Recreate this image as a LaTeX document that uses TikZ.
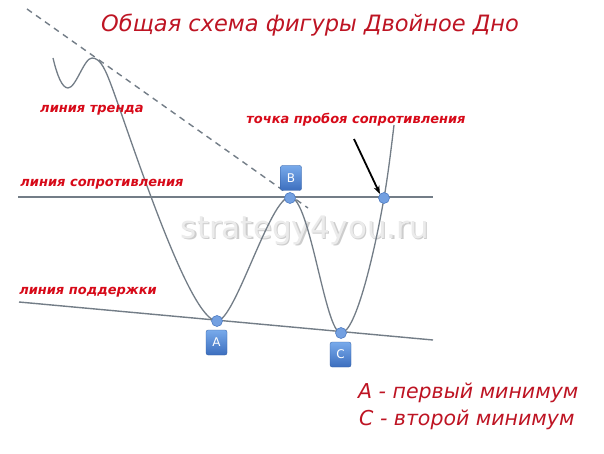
\documentclass[tikz,border=0pt]{standalone}
\usepackage{fontspec}
\setmainfont{DejaVu Sans}
\usetikzlibrary{arrows.meta}
\definecolor{ttlred}{RGB}{190,20,35}
\definecolor{lblred}{RGB}{215,10,25}
\definecolor{linegray}{RGB}{115,125,135}
\definecolor{dotblue}{RGB}{115,160,225}
\definecolor{dotedge}{RGB}{80,125,195}
\definecolor{boxtop}{RGB}{120,170,235}
\definecolor{boxbot}{RGB}{60,110,190}
\definecolor{wmfront}{RGB}{235,235,235}
\definecolor{wmshadow}{RGB}{205,205,205}
\begin{document}
\begin{tikzpicture}[x=1pt,y=-1pt,
  gline/.style={draw=linegray,line width=1.4pt},
  curveline/.style={draw=linegray,line width=1.3pt},
  dot/.style={circle,fill=dotblue,draw=dotedge,line width=0.6pt,minimum size=11pt,inner sep=0pt},
  ptbox/.style={rectangle,rounded corners=2pt,top color=boxtop,bottom color=boxbot,draw=boxbot!85!black,line width=0.3pt,minimum width=21pt,minimum height=25pt,inner sep=0pt,text=white,font=\fontsize{12}{12}\selectfont},
  lbl/.style={text=lblred,font=\fontsize{13}{13}\selectfont\bfseries\itshape,inner sep=0pt},
  big/.style={text=ttlred,font=\fontsize{20.5}{20.5}\selectfont\itshape,inner sep=0pt,anchor=west},
  wmtext/.style={font=\fontsize{31}{31}\selectfont,inner sep=0pt}
]
\useasboundingbox (0,0) rectangle (604,454);
\fill[white] (0,0) rectangle (604,454);

% watermark
\node[wmtext,text=wmshadow] (wms) at (306.5,231.5) {strategy4you.ru};
\node[wmtext,text=wmfront] (wm) at (305,230) {strategy4you.ru};

% coordinates
\coordinate (tr1) at (27,9);
\coordinate (tr2) at (308,208);
\coordinate (rs1) at (18,197);
\coordinate (rs2) at (433,197);
\coordinate (sp1) at (19,302);
\coordinate (sp2) at (433,340);

% lines
\draw[gline,dashed,dash pattern=on 6pt off 5pt] (tr1) -- (tr2);
\draw[gline] (rs1) -- (rs2);
\draw[gline] (sp1) -- (sp2);

% price curve
\draw[curveline] (53,58) .. controls (57,75) and (62,88) .. (68,88)
  .. controls (76,88) and (84,58) .. (92,58)
  .. controls (101,58) and (106,71) .. (113,90)
  .. controls (135,151) and (190,321) .. (217,321)
  .. controls (235,321) and (270,197) .. (290,197)
  .. controls (310,197) and (325,333) .. (341,333)
  .. controls (356,333) and (375,250) .. (384,198)
  .. controls (388,175) and (391,150) .. (394,125);

% dots
\node[dot] (A) at (217,321) {};
\node[dot] (B) at (290,198) {};
\node[dot] (C) at (341,333) {};
\node[dot] (D) at (384,198) {};

% boxes
\node[ptbox] (boxA) at (216.5,342.5) {A};
\node[ptbox] (boxB) at (291,178) {B};
\node[ptbox] (boxC) at (340.5,354.5) {C};

% arrow
\coordinate (arrstart) at (354,139);
\draw[black,line width=1.8pt,-{Stealth[length=8pt,width=6pt]}] (arrstart) -- (D.north west);

% title
\node[text=ttlred,font=\fontsize{22.5}{22.5}\selectfont\itshape,inner sep=0pt] (title) at (310,25) {Общая схема фигуры Двойное Дно};

% labels
\node[lbl] (ltrend) at (92,110) {линия тренда};
\node[lbl] (lbreak) at (356,120) {точка пробоя сопротивления};
\node[lbl] (lres) at (102,184) {линия сопротивления};
\node[lbl] (lsup) at (88,292) {линия поддержки};

% legend
\node[big] (legA) at (358,393) {A - первый минимум};
\node[big] (legC) at (359,420) {C - второй минимум};
\end{tikzpicture}
\end{document}
